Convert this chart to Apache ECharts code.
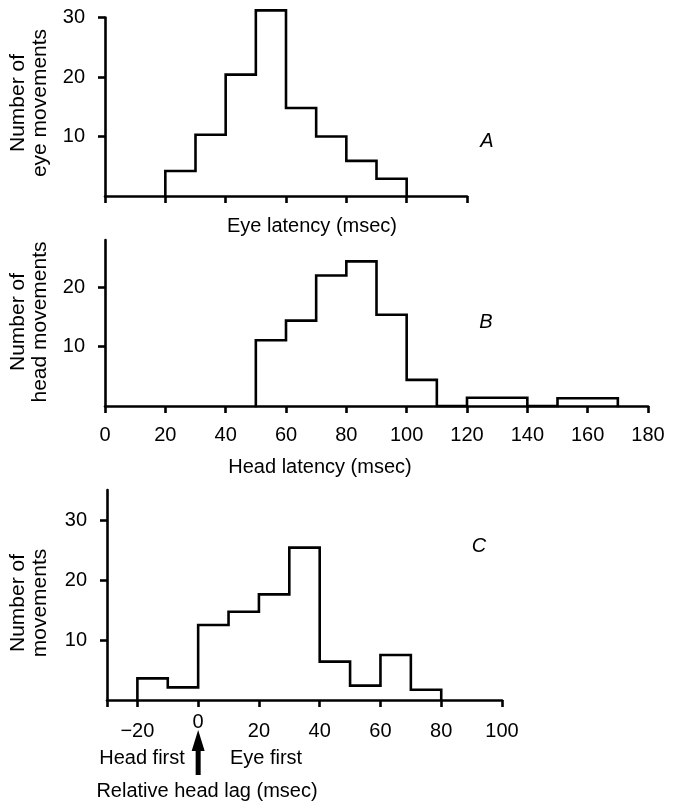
<!DOCTYPE html>
<html>
<head>
<meta charset="utf-8">
<script src="https://cdn.jsdelivr.net/npm/echarts@6/dist/echarts.min.js"></script>
<style>
html,body{margin:0;padding:0;background:#fff;}
#chart{width:675px;height:802px;}
</style>
</head>
<body>
<div id="chart"></div>
<script>
// ---- Data ----
// Panel A: eye latency histogram (bin edges in msec, counts)
var eyeEdges = [20, 30, 40, 50, 60, 70, 80, 90, 100];
var eyeCounts = [4.2, 10.3, 20.4, 31.2, 14.8, 10, 5.9, 2.9];
// Panel B: head latency histogram
var headEdges = [50, 60, 70, 80, 90, 100, 110, 120, 140, 150, 170];
var headCounts = [11.1, 14.4, 22, 24.4, 15.4, 4.4, 0, 1.4, 0, 1.3];
// Panel C: relative head lag histogram
var lagEdges = [-20, -10, 0, 10, 20, 30, 40, 50, 60, 70, 80];
var lagCounts = [3.6, 2.1, 12.5, 14.7, 17.6, 25.4, 6.4, 2.4, 7.5, 1.7];

// Tick values / labels
var ticksA_x = [0, 20, 40, 60, 80, 100, 120];
var ticksA_y = [10, 20, 30];
var ticksB_x = [0, 20, 40, 60, 80, 100, 120, 140, 160, 180];
var ticksB_y = [10, 20];
var ticksC_xTick = [-30, -20, 0, 20, 40, 60, 80, 100];
var ticksC_xLabel = [-20, 20, 40, 60, 80, 100];
var ticksC_zero = [0];
var ticksC_y = [10, 20, 30];

var titles = {
  aY: ['Number of', 'eye movements'],
  aX: 'Eye latency (msec)',
  bY: ['Number of', 'head movements'],
  bX: 'Head latency (msec)',
  cY: ['Number of', 'movements'],
  cX: 'Relative head lag (msec)',
  headFirst: 'Head first',
  eyeFirst: 'Eye first'
};
var panelLetters = ['A', 'B', 'C'];

// ---- Build step outline from edges & counts ----
function stepPoints(edges, counts) {
  var pts = [[edges[0], 0]];
  for (var i = 0; i < counts.length; i++) {
    pts.push([edges[i], counts[i]]);
    pts.push([edges[i + 1], counts[i]]);
  }
  pts.push([edges[edges.length - 1], 0]);
  return pts;
}

var FONT = '"Liberation Sans", Arial, Helvetica, sans-serif';
var LW = 2.6;
var BLACK = '#000';
var TICK_FS = 20;
var TITLE_FS = 20;

function xAxisCfg(grid, min, max, tickVals, labelVals, showLabel, margin) {
  return {
    type: 'value', gridIndex: grid, min: min, max: max,
    axisLine: {show: true, onZero: false, lineStyle: {color: BLACK, width: LW}},
    axisTick: {show: true, length: 7, customValues: tickVals, lineStyle: {color: BLACK, width: LW}},
    axisLabel: {show: showLabel, customValues: labelVals, color: BLACK, fontSize: TICK_FS, fontFamily: FONT, margin: margin,
      formatter: function (v) { return String(v).replace('-', '\u2212'); }},
    splitLine: {show: false}
  };
}
function yAxisCfg(grid, min, max, tickVals) {
  return {
    type: 'value', gridIndex: grid, min: min, max: max,
    axisLine: {show: true, onZero: false, lineStyle: {color: BLACK, width: LW}},
    axisTick: {show: true, length: 7, customValues: tickVals, lineStyle: {color: BLACK, width: LW}},
    axisLabel: {show: true, customValues: tickVals, color: BLACK, fontSize: TICK_FS, fontFamily: FONT, margin: 20},
    splitLine: {show: false}
  };
}

var chart = echarts.init(document.getElementById('chart'), null, {renderer: 'canvas'});

var seriesStyle = {
  type: 'line', showSymbol: false, symbol: 'none', clip: false, animation: false,
  lineStyle: {color: BLACK, width: LW, join: 'miter', cap: 'square'}
};

var option = {
  backgroundColor: '#fff',
  animation: false,
  textStyle: {fontFamily: FONT},
  grid: [
    {left: 105, top: 17.5, width: 362, height: 178.5, containLabel: false, outerBoundsMode: 'none'},
    {left: 105, top: 240, width: 543, height: 166, containLabel: false, outerBoundsMode: 'none'},
    {left: 107, top: 490, width: 395, height: 210, containLabel: false, outerBoundsMode: 'none'}
  ],
  xAxis: [
    xAxisCfg(0, 0, 120, ticksA_x, ticksA_x, false, 20),
    xAxisCfg(1, 0, 180, ticksB_x, ticksB_x, true, 19),
    xAxisCfg(2, -30, 100, ticksC_xTick, ticksC_xLabel, true, 21),
    {
      type: 'value', gridIndex: 2, min: -30, max: 100, position: 'bottom',
      axisLine: {show: false}, axisTick: {show: false}, splitLine: {show: false},
      axisLabel: {show: true, customValues: ticksC_zero, color: BLACK, fontSize: TICK_FS, fontFamily: FONT, margin: 12}
    }
  ],
  yAxis: [
    yAxisCfg(0, 0, 30, ticksA_y),
    yAxisCfg(1, 0, 28, ticksB_y),
    yAxisCfg(2, 0, 35, ticksC_y)
  ],
  series: [
    Object.assign({}, seriesStyle, {xAxisIndex: 0, yAxisIndex: 0, data: stepPoints(eyeEdges, eyeCounts)}),
    Object.assign({}, seriesStyle, {xAxisIndex: 1, yAxisIndex: 1, data: stepPoints(headEdges, headCounts)}),
    Object.assign({}, seriesStyle, {xAxisIndex: 2, yAxisIndex: 2, data: stepPoints(lagEdges, lagCounts)})
  ]
};
chart.setOption(option);

// ---- Annotation texts ----
function txt(x, y, s, opts) {
  opts = opts || {};
  return {
    type: 'text', x: x, y: y, rotation: opts.rotation || 0, silent: true,
    style: {text: s, fill: BLACK, font: (opts.style || 'normal') + ' ' + (opts.size || TITLE_FS) + 'px ' + FONT,
      textAlign: 'center', textVerticalAlign: 'middle'}
  };
}
var zeroX = chart.convertToPixel({xAxisIndex: 2}, 0);
var R = Math.PI / 2;
var YT = 21;
var graphics = [
  txt(18, 103, titles.aY[0], {rotation: R, size: YT}),
  txt(40, 103, titles.aY[1], {rotation: R, size: YT}),
  txt(312, 226, titles.aX),
  txt(18, 322, titles.bY[0], {rotation: R, size: YT}),
  txt(40, 322, titles.bY[1], {rotation: R, size: YT}),
  txt(320, 467, titles.bX),
  txt(18, 603, titles.cY[0], {rotation: R, size: YT}),
  txt(40, 603, titles.cY[1], {rotation: R, size: YT}),
  txt(207, 791, titles.cX),
  txt(142, 758, titles.headFirst),
  txt(266, 758, titles.eyeFirst),
  txt(487, 141, panelLetters[0], {style: 'italic'}),
  txt(486, 322, panelLetters[1], {style: 'italic'}),
  txt(479, 546, panelLetters[2], {style: 'italic'}),
  {
    type: 'polygon', silent: true,
    shape: {points: [[zeroX, 730], [zeroX + 6.5, 751], [zeroX + 2.5, 751], [zeroX + 2.5, 775], [zeroX - 2.5, 775], [zeroX - 2.5, 751], [zeroX - 6.5, 751]]},
    style: {fill: BLACK}
  }
];
chart.setOption({graphic: graphics});
</script>
</body>
</html>
